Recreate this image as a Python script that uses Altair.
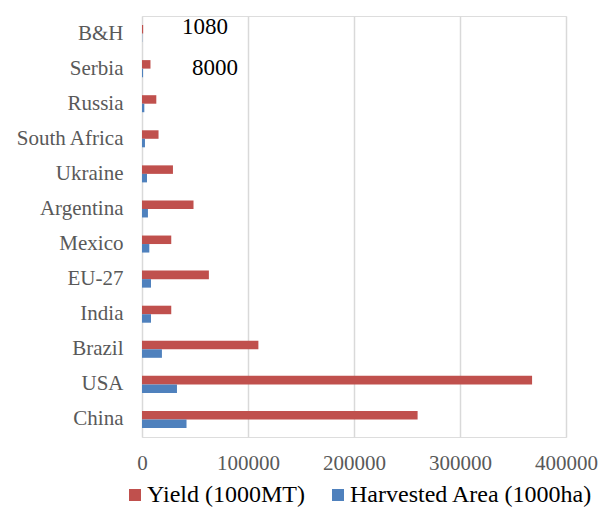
import altair as alt
import pandas as pd

countries = ["B&H", "Serbia", "Russia", "South Africa", "Ukraine", "Argentina",
             "Mexico", "EU-27", "India", "Brazil", "USA", "China"]
yield_vals = [1080, 8000, 13500, 15600, 29200, 48600, 27600, 63100, 27600, 109800, 368000, 260000]
area_vals = [200, 1000, 2200, 2800, 4700, 5600, 6900, 8500, 8500, 18800, 33000, 42000]
series = ["Yield (1000MT)", "Harvested Area (1000ha)"]
x_ticks = [0, 100000, 200000, 300000, 400000]
ann_countries = ["B&H", "Serbia"]
ann_labels = ["1080", "8000"]

rows = []
for c, yv, av in zip(countries, yield_vals, area_vals):
    rows.append({"country": c, "series": series[0], "value": yv})
    rows.append({"country": c, "series": series[1], "value": av})
df = pd.DataFrame(rows)
ann = pd.DataFrame({"country": ann_countries, "label": ann_labels})

FONT = "Liberation Serif"

y_enc = alt.Y("country:N", sort=countries, title=None,
              scale=alt.Scale(paddingInner=0.515, paddingOuter=0.2575),
              axis=alt.Axis(domain=False, ticks=False, tickSize=0, labelPadding=19,
                            labelFontSize=21, labelFont=FONT, labelColor="#595959",
                            grid=False))

bars = alt.Chart(df).mark_bar(opacity=1).encode(
    x=alt.X("value:Q", title=None,
            scale=alt.Scale(domain=[0, 400000], nice=False),
            axis=alt.Axis(values=x_ticks, format="d", domain=False, ticks=False, tickSize=0,
                          labelFlush=False, labelOverlap=False,
                          labelPadding=15, labelFontSize=21, labelFont=FONT,
                          labelColor="#595959", grid=True, gridColor="#d9d9d9",
                          gridWidth=1.5)),
    y=y_enc,
    yOffset=alt.YOffset("series:N", sort=series, scale=alt.Scale(paddingInner=0)),
    color=alt.Color("series:N", sort=series,
                    scale=alt.Scale(domain=series, range=["#C0504D", "#4F81BD"]),
                    legend=alt.Legend(title=None, orient="none", legendX=-19, legendY=467,
                                      direction="horizontal", padding=0,
                                      symbolType="square", symbolSize=144,
                                      symbolStrokeWidth=0, symbolOpacity=1,
                                      labelFontSize=24, labelFont=FONT, labelColor="#000000",
                                      labelLimit=0, columnPadding=21, labelOffset=0)),
)

ann_b = ann[ann.country == "B&H"]
ann_s = ann[ann.country == "Serbia"]

text_b = alt.Chart(ann_b).mark_text(align="left", baseline="middle", font=FONT,
                                    fontSize=23, color="#000000", dy=-7).encode(
    y=alt.Y("country:N", sort=countries),
    x=alt.value(40),
    text="label:N",
)
text_s = alt.Chart(ann_s).mark_text(align="left", baseline="middle", font=FONT,
                                    fontSize=23, color="#000000", dy=-1).encode(
    y=alt.Y("country:N", sort=countries),
    x=alt.value(50),
    text="label:N",
)

chart = alt.layer(bars, text_b, text_s).properties(
    width=424, height=421,
    autosize=alt.AutoSizeParams(type="none"),
    padding={"left": 142, "top": 16, "right": 34, "bottom": 70},
).configure_view(strokeWidth=0, stroke="transparent").configure(
    background="white", font=FONT
).configure_text(font=FONT).configure_legend(labelFont=FONT)

chart.save("out.html", embed_options={"renderer": "svg", "actions": False})
